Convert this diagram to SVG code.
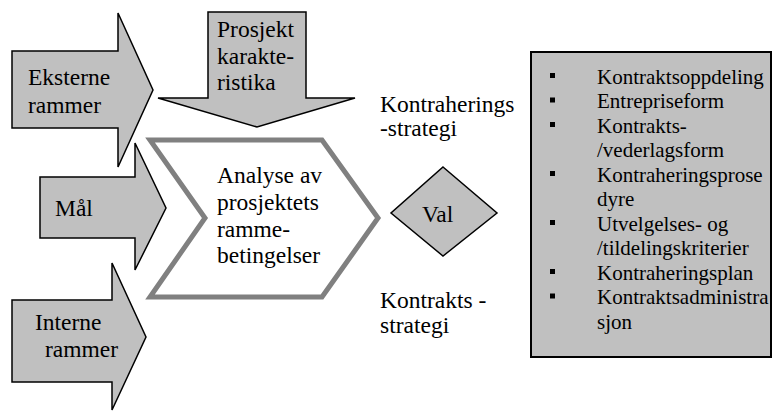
<svg xmlns="http://www.w3.org/2000/svg" width="774" height="412" viewBox="0 0 774 412">
<style>
.arrow{fill:#c0c0c0;stroke:#000;stroke-width:1.5;stroke-linejoin:miter}
.t{font-family:'Liberation Serif','Times New Roman',Tinos,'DejaVu Serif',serif;font-size:23.5px;fill:#000}
.b{font-family:'Liberation Serif','Times New Roman',Tinos,'DejaVu Serif',serif;font-size:21px;fill:#000}
.chev{fill:#fff;stroke:#808080;stroke-width:5;stroke-linejoin:miter}
.bul{fill:#000}
</style>
<rect width="774" height="412" fill="#fff"/>
<g id="prosjekt">
<polygon class="arrow" points="208,12 306,12 306,98 355,98 257,127 158,98 208,98"/>
<text class="t" x="217" y="37">Prosjekt</text>
<text class="t" x="217" y="64">karakte-</text>
<text class="t" x="217" y="90">ristika</text>
</g>
<g id="eksterne">
<polygon class="arrow" points="12,51 118,51 118,13 153,90 118,167 118,128 12,128"/>
<text class="t" x="28" y="85">Eksterne</text>
<text class="t" x="28" y="113">rammer</text>
</g>
<g id="maal">
<polygon class="arrow" points="40,177 135,177 135,143 166,208 135,270 135,238 40,238"/>
<text class="t" x="55" y="216">Mål</text>
</g>
<g id="interne">
<polygon class="arrow" points="12,300 112,300 112,263 146,337 112,410 112,382 12,382"/>
<text class="t" x="35" y="330">Interne</text>
<text class="t" x="45" y="357">rammer</text>
</g>
<g id="analyse">
<polygon class="chev" points="150,140 322,140 378,218 322,297 150,297 205,218"/>
<text class="t" x="217" y="183">Analyse av</text>
<text class="t" x="217" y="210">prosjektets</text>
<text class="t" x="217" y="237">ramme-</text>
<text class="t" x="217" y="263">betingelser</text>
</g>
<g id="kontraherings">
<text class="t" x="380" y="112">Kontraherings</text>
<text class="t" x="380" y="136">-strategi</text>
</g>
<g id="val">
<polygon class="arrow" points="443,167 497,213 443,256 391,213"/>
<text class="t" x="422" y="222">Val</text>
</g>
<g id="kontrakts">
<text class="t" x="380" y="308">Kontrakts -</text>
<text class="t" x="380" y="333">strategi</text>
</g>
<g id="liste">
<rect x="531" y="52" width="240" height="305" fill="#c0c0c0" stroke="#000" stroke-width="2"/>
<rect class="bul" x="550" y="73" width="5" height="5"/>
<rect class="bul" x="550" y="97.5" width="5" height="5"/>
<rect class="bul" x="550" y="122" width="5" height="5"/>
<rect class="bul" x="550" y="171" width="5" height="5"/>
<rect class="bul" x="550" y="220" width="5" height="5"/>
<rect class="bul" x="550" y="269" width="5" height="5"/>
<rect class="bul" x="550" y="293.5" width="5" height="5"/>
<text class="b" x="597" y="83.5">Kontraktsoppdeling</text>
<text class="b" x="597" y="108">Entrepriseform</text>
<text class="b" x="597" y="132.5">Kontrakts-</text>
<text class="b" x="597" y="157">/vederlagsform</text>
<text class="b" x="597" y="181.5">Kontraheringsprose</text>
<text class="b" x="597" y="206">dyre</text>
<text class="b" x="597" y="230.5">Utvelgelses- og</text>
<text class="b" x="597" y="255">/tildelingskriterier</text>
<text class="b" x="597" y="279.5">Kontraheringsplan</text>
<text class="b" x="597" y="304">Kontraktsadministra</text>
<text class="b" x="597" y="328.5">sjon</text>
</g>
<g id="connectors"></g>
</svg>
